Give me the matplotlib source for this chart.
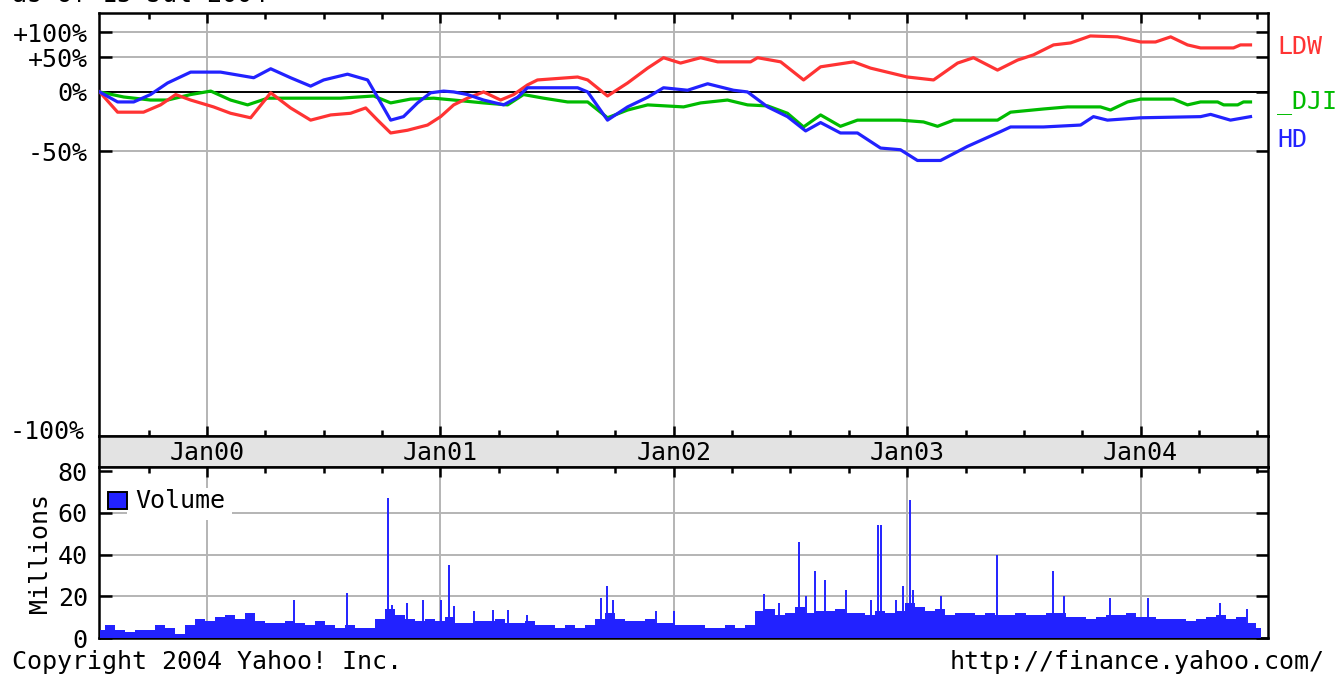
import numpy as np
import matplotlib.pyplot as plt
from matplotlib.patches import Rectangle
from matplotlib.ticker import NullLocator, FixedLocator

plt.rcParams['font.family'] = ['DejaVu Sans Mono']

# price change vs start (percent), x in decimal years
ldw_t = [1999.540, 1999.617, 1999.728, 1999.801, 1999.866, 1999.930, 2000.028, 2000.101,
         2000.187, 2000.273, 2000.358, 2000.444, 2000.530, 2000.615, 2000.680, 2000.731,
         2000.787, 2000.859, 2000.945, 2001.001, 2001.057, 2001.116, 2001.185, 2001.258,
         2001.314, 2001.373, 2001.416, 2001.588, 2001.631, 2001.716, 2001.802, 2001.888,
         2001.956, 2002.029, 2002.115, 2002.188, 2002.329, 2002.359, 2002.458, 2002.556,
         2002.629, 2002.770, 2002.843, 2003.001, 2003.113, 2003.216, 2003.284, 2003.387,
         2003.473, 2003.541, 2003.627, 2003.700, 2003.785, 2003.901, 2004.000, 2004.064,
         2004.129, 2004.201, 2004.257, 2004.398, 2004.428, 2004.471]
ldw_pct = [0, -21, -21, -14, -3, -9, -16, -22,
           -26, -1, -17, -28, -23.5, -22, -17, -28,
           -38, -36, -32, -25, -14, -7, 0, -9,
           -3, 8.5, 15, 19, 15, -4.6, 11, 32,
           49, 40, 49, 42, 42, 49, 42, 15,
           34, 42, 32, 19, 15, 40, 49, 29,
           45, 54, 73, 77, 92, 90, 79, 79,
           90, 73, 67, 67, 73, 73]

dji_t = [1999.540, 1999.643, 1999.758, 1999.831, 1999.930, 2000.016, 2000.101, 2000.174,
         2000.260, 2000.572, 2000.714, 2000.787, 2000.872, 2000.971, 2001.057, 2001.185,
         2001.288, 2001.356, 2001.442, 2001.545, 2001.631, 2001.716, 2001.802, 2001.888,
         2002.042, 2002.115, 2002.230, 2002.316, 2002.402, 2002.487, 2002.556, 2002.629,
         2002.714, 2002.787, 2002.971, 2003.070, 2003.130, 2003.199, 2003.387, 2003.443,
         2003.584, 2003.687, 2003.828, 2003.871, 2003.944, 2004.000, 2004.141, 2004.201,
         2004.257, 2004.330, 2004.356, 2004.416, 2004.441, 2004.471]
dji_pct = [0, -5.7, -9, -9, -3, 1, -9, -14,
           -7, -7, -4.6, -12, -8, -7, -9, -12,
           -14, -3, -7, -11, -11, -26, -19, -14,
           -16, -12, -9, -14, -15, -22, -33.5, -23.5,
           -33, -28, -28, -29.5, -33, -28, -28, -21,
           -18, -16, -16, -19, -11, -8, -8, -14,
           -11, -11, -14, -14, -11, -11]

hd_t = [1999.540, 1999.617, 1999.686, 1999.758, 1999.831, 1999.930, 2000.058, 2000.200,
        2000.273, 2000.358, 2000.444, 2000.500, 2000.602, 2000.688, 2000.731, 2000.787,
        2000.842, 2000.902, 2000.958, 2001.014, 2001.057, 2001.116, 2001.185, 2001.271,
        2001.331, 2001.373, 2001.472, 2001.588, 2001.631, 2001.716, 2001.802, 2001.888,
        2001.956, 2002.059, 2002.145, 2002.256, 2002.316, 2002.402, 2002.487, 2002.565,
        2002.629, 2002.714, 2002.787, 2002.886, 2002.971, 2003.044, 2003.143, 2003.258,
        2003.400, 2003.443, 2003.584, 2003.743, 2003.798, 2003.858, 2004.000, 2004.257,
        2004.300, 2004.385, 2004.471]
hd_pct = [0, -11, -11, -3, 11, 26, 26, 18,
          31, 18, 7, 15, 23, 15, -6, -28,
          -25, -12, -1, 1, 0, -3, -9, -14,
          -6, 5, 5, 5, 0, -28, -16, -6,
          5, 2, 10, 2, 0, -16, -25, -36.5,
          -30, -38, -38, -48, -49, -55, -55, -47,
          -37, -33.5, -33.5, -32, -25, -28, -26, -25,
          -23, -28, -25]

# volume (millions): half-monthly base level and single-day spikes
vol_base = [4, 6, 4, 3, 4, 4, 6, 5, 2, 6,
            9, 8, 10, 11, 9, 12, 8, 7, 7, 8,
            7, 6, 8, 6, 5, 6, 5, 5, 9, 14,
            11, 9, 8, 9, 8, 10, 7, 7, 8, 8,
            9, 7, 7, 8, 6, 6, 5, 6, 5, 6,
            9, 12, 9, 8, 8, 9, 7, 7, 6, 6,
            6, 5, 5, 6, 5, 6, 13, 14, 11, 12,
            15, 12, 13, 13, 14, 12, 12, 11, 13, 12,
            13, 17, 15, 13, 14, 11, 12, 12, 11, 12,
            11, 11, 12, 11, 11, 12, 12, 10, 10, 9,
            10, 11, 11, 12, 10, 10, 9, 9, 9, 8,
            9, 10, 11, 9, 10, 7, 5]
spike_t = [2000.371, 2000.598, 2000.774, 2000.791, 2000.859, 2000.924, 2001.001, 2001.035,
           2001.057, 2001.142, 2001.224, 2001.288, 2001.373, 2001.686, 2001.712, 2001.738,
           2001.922, 2001.999, 2002.385, 2002.449, 2002.535, 2002.565, 2002.607, 2002.650,
           2002.736, 2002.843, 2002.873, 2002.886, 2002.950, 2002.984, 2003.010, 2003.027,
           2003.143, 2003.383, 2003.623, 2003.670, 2003.871, 2004.030, 2004.342, 2004.458]
spike_val = [18, 21.6, 67, 16, 17, 18, 18, 35,
             15.5, 13, 13.6, 13.6, 11, 19, 25, 18,
             13, 13, 21, 17, 46, 20, 32, 28,
             23, 18, 54, 54, 18, 25, 66, 23,
             20, 40, 32, 20, 19, 19, 17, 14]

years = [2000, 2001, 2002, 2003, 2004]
year_labels = ['Jan00', 'Jan01', 'Jan02', 'Jan03', 'Jan04']

RED = '#ff3333'
GREEN = '#00bb00'
BLUE = '#2222ff'
GRID = '#b4b4b4'
FS = 18

x0, x1 = 1999.537, 2004.546

fig = plt.figure(figsize=(13.37, 6.75), dpi=100)
ax = fig.add_axes([0.0740, 0.3541, 0.8744, 0.6267])
band = fig.add_axes([0.0740, 0.3081, 0.8744, 0.0460])
axv = fig.add_axes([0.0740, 0.0548, 0.8744, 0.2533])

quarters = [y + q * 0.25 for y in range(1999, 2005) for q in range(4)]

def style_frame(a):
    for s in a.spines.values():
        s.set_linewidth(1.8)
        s.set_color('black')
    a.set_xlim(x0, x1)

# --- price panel ---
style_frame(ax)
ax.set_yscale('log')
ax.set_ylim(0.01816, 2.51)
ax.yaxis.set_minor_locator(NullLocator())
ax.set_yticks([2, 1.5, 1, 0.5])
ax.set_yticklabels(['+100%', '+50%', '0%', '-50%'])
ax.tick_params(axis='y', direction='in', length=9, width=1.8, left=True, right=True,
               labelsize=FS, pad=8)
ax.set_xticks(years)
ax.xaxis.set_minor_locator(FixedLocator(quarters))
ax.tick_params(axis='x', which='both', direction='in', top=True, bottom=True,
               labelbottom=False, width=1.8)
ax.tick_params(axis='x', which='major', length=7)
ax.tick_params(axis='x', which='minor', length=4)
for y in years:
    ax.axvline(y, color=GRID, lw=1.4, zorder=1)
for v in [2, 1.5, 0.5]:
    ax.axhline(v, color=GRID, lw=1.4, zorder=1)
ax.axhline(1, color='black', lw=1.4, zorder=2)
ax.text(-0.012, 0.01, '-100%', transform=ax.transAxes, ha='right', va='center', fontsize=FS)

ax.plot(dji_t, 1 + np.array(dji_pct) / 100, color=GREEN, lw=2.3, zorder=3)
ax.plot(ldw_t, 1 + np.array(ldw_pct) / 100, color=RED, lw=2.3, zorder=4)
ax.plot(hd_t, 1 + np.array(hd_pct) / 100, color=BLUE, lw=2.3, zorder=5)

fig.text(1277 / 1337, 1 - 47 / 675, 'LDW', color=RED, fontsize=FS, va='center')
fig.text(1277 / 1337, 1 - 102 / 675, '_DJI', color=GREEN, fontsize=FS, va='center')
fig.text(1277 / 1337, 1 - 140 / 675, 'HD', color=BLUE, fontsize=FS, va='center')

# --- date band ---
style_frame(band)
band.set_facecolor('#e3e3e3')
band.set_yticks([])
band.set_xticks([])
for y, lab in zip(years, year_labels):
    band.text(y, 0.45, lab, ha='center', va='center', fontsize=FS)

# --- volume panel ---
style_frame(axv)
axv.set_ylim(0, 82)
axv.set_yticks([0, 20, 40, 60, 80])
axv.tick_params(axis='y', direction='in', length=9, width=1.8, left=True, right=True,
                labelsize=FS, pad=8)
axv.set_xticks(years)
axv.xaxis.set_minor_locator(FixedLocator(quarters))
axv.tick_params(axis='x', which='both', direction='in', top=True, bottom=False,
                labelbottom=False, width=1.8)
axv.tick_params(axis='x', which='major', length=7)
axv.tick_params(axis='x', which='minor', length=4)
for y in years:
    axv.axvline(y, color=GRID, lw=1.4, zorder=1)
for v in [20, 40, 60]:
    axv.axhline(v, color=GRID, lw=1.4, zorder=1)

vol_t = np.linspace(1999.543, 2004.514, len(vol_base))
axv.fill_between(vol_t, 0, vol_base, step='mid', color=BLUE, lw=0, zorder=3)
axv.vlines(spike_t, 0, spike_val, color=BLUE, lw=1.4, zorder=3)
axv.set_ylabel('Millions', fontsize=FS, labelpad=4)

axv.add_patch(Rectangle((0.024, 0.69), 0.09, 0.19, transform=axv.transAxes,
                        facecolor='white', edgecolor='none', zorder=2))
axv.add_patch(Rectangle((0.0077, 0.754), 0.016, 0.1, transform=axv.transAxes,
                        facecolor=BLUE, edgecolor='black', lw=1.4, zorder=4))
axv.text(0.031, 0.80, 'Volume', transform=axv.transAxes, fontsize=FS, va='center', zorder=4)

fig.text(12 / 1337, 1 - 662 / 675, 'Copyright 2004 Yahoo! Inc.', fontsize=FS, va='center')
fig.text(950 / 1337, 1 - 662 / 675, 'http://finance.yahoo.com/', fontsize=FS, va='center')
fig.text(12 / 1337, 1.008, 'as of 15-Jul-2004', fontsize=FS, va='center')

fig.savefig('out.png', dpi=100)
